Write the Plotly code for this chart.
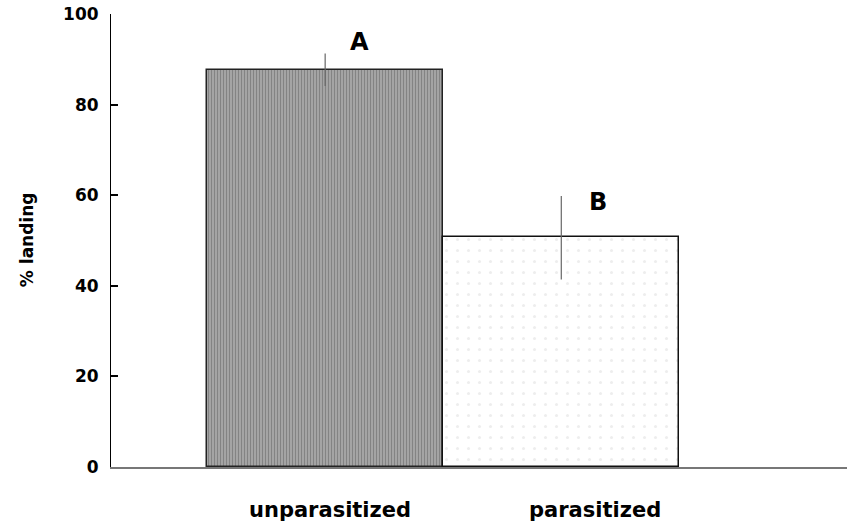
import plotly.graph_objects as go

categories = ["unparasitized", "parasitized"]
landing_pct = [87.7, 50.8]
err_plus = [3.6, 9.0]
err_minus = [3.6, 9.4]
letters = ["A", "B"]
y_ticks = [0, 20, 40, 60, 80, 100]

FONT = "DejaVu Sans, Liberation Sans, Arial, sans-serif"
xpos = [0, 1]

fig = go.Figure()
fig.add_trace(go.Bar(
    x=[xpos[0]], y=[landing_pct[0]], width=1.0,
    marker=dict(color="#8e8e8e", line=dict(color="#222", width=1.5),
                pattern=dict(shape="|", fgcolor="#5e5e5e", bgcolor="#a8a8a8", size=3, solidity=0.4)),
    error_y=dict(type="data", array=[err_plus[0]], arrayminus=[err_minus[0]],
                 color="#666", thickness=1.2, width=0),
    showlegend=False,
))
fig.add_trace(go.Bar(
    x=[xpos[1]], y=[landing_pct[1]], width=1.0,
    marker=dict(color="white", line=dict(color="#111", width=1.5),
                pattern=dict(shape=".", fgcolor="#dcdcdc", bgcolor="white", size=11, solidity=0.06)),
    error_y=dict(type="data", array=[err_plus[1]], arrayminus=[err_minus[1]],
                 color="#666", thickness=1.2, width=0),
    showlegend=False,
))

letter_pos = [(0.145, 93.8), (1.157, 58.6)]
for (lx, ly), t in zip(letter_pos, letters):
    fig.add_annotation(x=lx, y=ly, text="<b>%s</b>" % t, showarrow=False, xref="x", yref="y",
                       font=dict(family=FONT, size=24, color="black"))

label_x = [0.02, 1.144]
for lx, t in zip(label_x, categories):
    fig.add_annotation(x=lx, y=-(524 - 466.7) / 452.7, xref="x", yref="paper",
                       text="<b>%s</b>" % t, showarrow=False,
                       font=dict(family=FONT, size=21, color="black"))

fig.add_annotation(x=(15 - 111) / 736.0, y=(466.7 - 240) / 452.7, xref="paper", yref="paper",
                   text="<b>% landing</b>", textangle=-90, showarrow=False,
                   font=dict(family=FONT, size=17, color="black"))

fig.update_layout(
    width=847, height=527,
    margin=dict(l=111, r=0, t=14, b=60, pad=0, autoexpand=False),
    paper_bgcolor="white", plot_bgcolor="white",
    bargap=0,
    font=dict(family=FONT, color="black"),
    xaxis=dict(range=[-0.907, 2.21], showgrid=False, zeroline=False, automargin=False,
               showticklabels=False, ticks="", showline=True,
               linecolor="#777", linewidth=2),
    yaxis=dict(range=[0, 100], tickvals=y_ticks, showgrid=False, zeroline=False,
               automargin=False,
               showline=True, linecolor="black", linewidth=1,
               ticks="inside", ticklen=7, tickwidth=2, tickcolor="black",
               ticklabelstandoff=8,
               tickfont=dict(family=FONT, size=17, color="black", weight="bold")),
)

fig.write_html(
    "out.html",
    config={"displayModeBar": False},
    post_script="document.body.style.margin='0px';document.body.style.overflow='hidden';",
)
